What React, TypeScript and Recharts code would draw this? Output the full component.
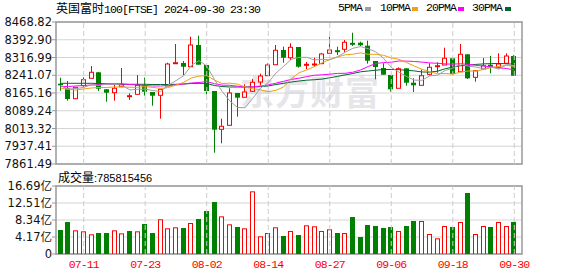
import React from "react";
import {
  ComposedChart,
  Bar,
  Line,
  XAxis,
  YAxis,
  CartesianGrid,
  ReferenceLine,
  ReferenceArea,
} from "recharts";

// ---------- data ----------
const dates = [
  "07-08", "07-09", "07-10", "07-11", "07-12", "07-15", "07-16", "07-17", "07-18", "07-19",
  "07-22", "07-23", "07-24", "07-25", "07-26", "07-29", "07-30", "07-31", "08-01", "08-02",
  "08-05", "08-06", "08-07", "08-08", "08-09", "08-12", "08-13", "08-14", "08-15", "08-16",
  "08-19", "08-20", "08-21", "08-22", "08-23", "08-27", "08-28", "08-29", "08-30", "09-02",
  "09-03", "09-04", "09-05", "09-06", "09-09", "09-10", "09-11", "09-12", "09-13", "09-16",
  "09-17", "09-18", "09-19", "09-20", "09-23", "09-24", "09-25", "09-26", "09-27", "09-30",
];

const opens = [
  8204.9, 8185.3, 8140.8, 8196.4, 8228.0, 8253.7, 8181.0, 8166.4, 8192.1, 8153.6,
  8159.6, 8198.1, 8169.4, 8155.3, 8195.1, 8290.5, 8293.5, 8277.6, 8370.4, 8284.9,
  8173.7, 8009.9, 8027.0, 8165.2, 8146.8, 8172.4, 8212.2, 8239.1, 8286.2, 8349.1,
  8316.1, 8361.9, 8281.9, 8286.2, 8290.5, 8335.0, 8346.1, 8352.1, 8377.7, 8380.3,
  8367.5, 8302.0, 8272.1, 8242.1, 8185.3, 8270.8, 8209.2, 8198.1, 8245.1, 8279.3,
  8284.9, 8313.6, 8256.3, 8330.7, 8232.3, 8267.8, 8286.2, 8275.1, 8292.2, 8323.4,
];
const highs = [
  8230.6, 8216.5, 8190.8, 8232.3, 8280.6, 8255.0, 8182.3, 8199.4, 8272.1, 8163.9,
  8242.1, 8230.6, 8169.4, 8182.3, 8294.7, 8374.7, 8302.0, 8405.9, 8410.2, 8284.9,
  8173.7, 8055.2, 8185.3, 8165.2, 8202.4, 8225.0, 8247.7, 8292.2, 8370.4, 8363.2,
  8377.7, 8361.9, 8297.7, 8316.1, 8335.0, 8405.9, 8363.2, 8391.8, 8423.1, 8384.6,
  8388.8, 8302.0, 8292.2, 8242.1, 8275.1, 8270.8, 8228.0, 8264.8, 8292.2, 8296.5,
  8358.9, 8313.6, 8374.7, 8330.7, 8260.5, 8314.8, 8323.4, 8335.0, 8335.0, 8327.7,
];
const lows = [
  8175.0, 8132.2, 8139.5, 8192.1, 8228.0, 8173.7, 8127.9, 8132.2, 8192.1, 8135.2,
  8159.6, 8153.6, 8110.8, 8055.2, 8195.1, 8290.5, 8242.1, 8277.6, 8286.2, 8159.6,
  7909.8, 7950.0, 8027.0, 8063.8, 8146.8, 8169.4, 8198.1, 8239.1, 8286.2, 8294.7,
  8306.3, 8273.4, 8267.8, 8277.6, 8290.5, 8335.0, 8327.7, 8339.2, 8366.2, 8366.2,
  8290.5, 8223.7, 8243.4, 8170.7, 8185.3, 8196.4, 8169.4, 8198.1, 8239.1, 8252.0,
  8284.9, 8242.1, 8256.3, 8225.0, 8213.5, 8267.8, 8249.4, 8270.8, 8292.2, 8237.9,
];
const closes = [
  8198.1, 8139.5, 8189.5, 8222.0, 8253.7, 8183.5, 8166.4, 8185.3, 8202.4, 8153.6,
  8198.1, 8170.7, 8153.6, 8181.0, 8289.2, 8294.7, 8277.6, 8370.4, 8286.2, 8173.7,
  8008.2, 8022.7, 8165.2, 8145.1, 8169.4, 8210.9, 8237.9, 8284.9, 8347.8, 8316.1,
  8360.6, 8277.6, 8287.9, 8289.2, 8332.0, 8349.1, 8343.5, 8382.0, 8374.7, 8369.2,
  8303.3, 8276.4, 8243.4, 8181.0, 8269.1, 8209.2, 8198.1, 8239.1, 8275.1, 8281.9,
  8313.6, 8246.4, 8330.7, 8228.0, 8260.5, 8281.9, 8277.6, 8289.2, 8323.4, 8239.1,
];
// volume in 亿
const volumes = [
  5.89, 7.85, 5.81, 5.56, 4.83, 5.15, 5.15, 5.81, 5.07, 5.65,
  5.56, 7.36, 5.15, 8.51, 6.30, 6.55, 6.38, 7.61, 8.59, 10.55,
  12.76, 9.24, 7.28, 6.63, 6.30, 15.38, 4.34, 5.15, 6.55, 4.42,
  5.65, 4.66, 7.04, 6.80, 5.65, 6.06, 5.15, 5.15, 9.08, 4.17,
  7.12, 6.87, 6.38, 6.63, 5.65, 6.87, 8.10, 8.10, 4.91, 3.85,
  6.87, 6.63, 7.85, 14.97, 4.91, 6.87, 6.63, 7.85, 6.87, 7.86,
];
const ma5 = [
  8195.1, 8182.3, 8184.4, 8188.7, 8200.6, 8197.7, 8203.2, 8202.4, 8198.1, 8178.4,
  8181.0, 8181.8, 8175.8, 8171.6, 8198.5, 8217.8, 8239.1, 8282.8, 8303.7, 8280.6,
  8223.3, 8172.4, 8131.4, 8103.1, 8102.3, 8142.5, 8185.7, 8209.6, 8250.3, 8279.3,
  8309.3, 8317.4, 8317.8, 8306.3, 8309.3, 8307.2, 8320.4, 8339.2, 8356.3, 8363.6,
  8354.6, 8340.9, 8313.6, 8274.6, 8254.5, 8235.7, 8220.3, 8219.5, 8238.3, 8240.9,
  8261.4, 8271.2, 8289.6, 8280.2, 8275.9, 8269.5, 8275.9, 8267.4, 8286.6, 8282.3,
];
const ma10 = [
  8186.5, 8180.1, 8178.0, 8182.3, 8186.5, 8188.7, 8188.7, 8190.8, 8190.8, 8189.5,
  8189.5, 8192.5, 8189.1, 8184.8, 8188.2, 8199.4, 8210.5, 8229.3, 8237.4, 8239.6,
  8220.3, 8205.8, 8207.1, 8203.2, 8191.2, 8183.1, 8178.8, 8170.3, 8176.7, 8190.8,
  8225.9, 8251.5, 8264.0, 8278.1, 8294.3, 8308.4, 8318.7, 8328.5, 8331.1, 8336.7,
  8330.7, 8330.7, 8326.4, 8315.3, 8309.3, 8295.2, 8280.6, 8266.5, 8256.3, 8247.7,
  8248.6, 8245.6, 8254.5, 8259.2, 8258.4, 8265.7, 8273.4, 8278.5, 8283.2, 8278.9,
];
const ma20 = [
  8193.0, 8193.0, 8195.1, 8197.2, 8199.4, 8201.5, 8203.6, 8203.6, 8203.6, 8201.5,
  8199.4, 8197.2, 8195.1, 8195.1, 8197.2, 8199.4, 8203.6, 8207.9, 8210.1, 8214.3,
  8204.9, 8198.9, 8198.1, 8194.2, 8190.0, 8191.2, 8194.7, 8199.8, 8207.1, 8215.2,
  8223.3, 8228.5, 8235.3, 8240.9, 8243.0, 8245.6, 8249.0, 8249.4, 8254.1, 8263.5,
  8278.5, 8291.3, 8295.2, 8296.9, 8302.0, 8301.6, 8299.9, 8297.3, 8293.9, 8292.2,
  8289.6, 8288.3, 8290.5, 8287.5, 8283.6, 8280.2, 8277.2, 8272.5, 8269.9, 8263.5,
];
const ma30 = [
  8206.6, 8206.6, 8206.6, 8206.6, 8206.6, 8205.8, 8204.5, 8203.6, 8202.8, 8202.4,
  8202.4, 8202.4, 8201.5, 8201.5, 8201.5, 8202.4, 8203.6, 8205.8, 8206.6, 8205.8,
  8197.2, 8193.0, 8190.8, 8190.8, 8190.8, 8190.8, 8193.0, 8195.1, 8201.5, 8206.6,
  8212.2, 8216.5, 8219.9, 8222.0, 8224.6, 8230.2, 8236.2, 8242.6, 8248.6, 8255.8,
  8259.2, 8262.7, 8265.7, 8265.7, 8264.8, 8262.2, 8259.7, 8255.0, 8254.5, 8258.4,
  8268.7, 8275.9, 8281.5, 8284.1, 8287.5, 8289.6, 8290.9, 8291.3, 8290.5, 8287.9,
];

const priceTicks = [7861.49, 7937.41, 8013.32, 8089.24, 8165.16, 8241.07, 8316.99, 8392.9, 8468.82];
const volTicks = [0, 4.17, 8.34, 12.51, 16.69];
const dateTickIdx = [4, 12, 20, 28, 36, 44, 52, 60];
const lastVolume = "785815456";

// ---------- styles ----------
const RED = "#ff0000";
const GREEN = "#008000";
const GRID = "#d4d4d4";
const BORDER = "#999999";
const MA_COLORS = { ma5: "#a0a0a0", ma10: "#f0a010", ma20: "#ff00ff", ma30: "#00662e" };
const X_DOMAIN: [number, number] = [0.4, 61];
const AXIS_FONT = "DejaVu Sans, Noto Sans CJK SC, sans-serif";
const MONO = "Liberation Mono, DejaVu Sans Mono, monospace";

const rows = dates.map((d, i) => ({
  idx: i + 1,
  date: d,
  open: opens[i],
  high: highs[i],
  low: lows[i],
  close: closes[i],
  range: [lows[i], highs[i]],
  vol: volumes[i],
  ma5: ma5[i],
  ma10: ma10[i],
  ma20: ma20[i],
  ma30: ma30[i],
}));

const CandleShape = (props: any) => {
  const { x, y, width, height, payload } = props;
  if (x == null || y == null) return null;
  const top = Math.min(y, y + height);
  const bot = Math.max(y, y + height);
  const { open, close, high, low } = payload;
  const span = high - low || 1;
  const toY = (p: number) => top + ((high - p) / span) * (bot - top);
  const c = Math.round(x + width / 2 - 0.5);
  const up = close >= open;
  const color = up ? RED : GREEN;
  const yO = toY(open);
  const yC = toY(close);
  const bTop = Math.min(yO, yC);
  const bBot = Math.max(yO, yC);
  const wx = c + 0.5;
  if (bBot - bTop < 1.5) {
    return (
      <g>
        <line x1={wx} x2={wx} y1={top} y2={bot} stroke={color} strokeWidth={1} />
        <rect x={c - 2} y={bTop - 0.5} width={5} height={2} fill={color} />
      </g>
    );
  }
  if (up) {
    return (
      <g>
        {bTop > top && <line x1={wx} x2={wx} y1={top} y2={bTop} stroke={color} strokeWidth={1} />}
        {bBot < bot && <line x1={wx} x2={wx} y1={bBot} y2={bot} stroke={color} strokeWidth={1} />}
        <rect x={c - 1.5} y={bTop} width={4} height={bBot - bTop} fill="#ffffff" stroke={color} strokeWidth={1} />
      </g>
    );
  }
  return (
    <g>
      <line x1={wx} x2={wx} y1={top} y2={bot} stroke={color} strokeWidth={1} />
      <rect x={c - 2} y={bTop} width={5} height={bBot - bTop} fill={color} />
    </g>
  );
};

const VolShape = (props: any) => {
  const { x, y, width, height, payload } = props;
  if (x == null || y == null) return null;
  const top = Math.min(y, y + height);
  const bot = Math.max(y, y + height);
  const c = Math.round(x + width / 2 - 0.5);
  const up = payload.close > payload.open;
  if (up) {
    return (
      <rect x={c - 1.5} y={top + 0.5} width={4} height={bot - top - 0.5} fill="#ffffff" stroke={RED} strokeWidth={1} />
    );
  }
  return <rect x={c - 2} y={top} width={5} height={bot - top} fill={GREEN} />;
};

const legendItems = [
  { label: "5PMA", color: MA_COLORS.ma5, x: 338, sq: 365 },
  { label: "10PMA", color: MA_COLORS.ma10, x: 380, sq: 412 },
  { label: "20PMA", color: MA_COLORS.ma20, x: 426, sq: 458 },
  { label: "30PMA", color: MA_COLORS.ma30, x: 472, sq: 505 },
];

export default function App() {
  return (
    <div
      style={{
        position: "absolute",
        left: 0,
        top: 0,
        width: 578,
        height: 276,
        background: "#ffffff",
        overflow: "hidden",
      }}
    >
      {/* watermark */}
      <div
        style={{
          position: "absolute",
          left: 240,
          top: 72,
          fontFamily: "Noto Sans CJK SC",
          fontWeight: 700,
          fontSize: 34,
          lineHeight: "38px",
          color: "#e6e6ea",
          letterSpacing: 1,
          whiteSpace: "nowrap",
        }}
      >
        东方财富
      </div>

      {/* title */}
      <div
        style={{
          position: "absolute",
          left: 56,
          top: 1,
          fontSize: 12,
          lineHeight: "14px",
          whiteSpace: "nowrap",
          color: "#000",
        }}
      >
        <span style={{ fontFamily: "Noto Sans CJK SC" }}>英国富时</span>
        <span style={{ fontFamily: MONO, fontSize: 11.5, letterSpacing: -0.9 }}>100[FTSE] 2024-09-30 23:30</span>
      </div>

      {/* legend */}
      {legendItems.map((it) => (
        <React.Fragment key={it.label}>
          <div
            style={{
              position: "absolute",
              left: it.x,
              top: 1,
              fontFamily: MONO,
              fontSize: 11.5,
              letterSpacing: -0.9,
              lineHeight: "14px",
              color: "#000",
              whiteSpace: "nowrap",
            }}
          >
            {it.label}
          </div>
          <div
            style={{
              position: "absolute",
              left: it.sq,
              top: 7,
              width: 6,
              height: 4,
              background: it.color,
            }}
          />
        </React.Fragment>
      ))}

      {/* price chart */}
      <div style={{ position: "absolute", left: 0, top: 0 }}>
        <ComposedChart
          width={578}
          height={176}
          data={rows}
          margin={{ top: 22, right: 56, bottom: 12, left: 0 }}
        >
          <CartesianGrid horizontal vertical={false} stroke={GRID} />
          <XAxis type="number" dataKey="idx" domain={X_DOMAIN} ticks={dateTickIdx} hide allowDataOverflow />
          <YAxis
            type="number"
            domain={[priceTicks[0], priceTicks[priceTicks.length - 1]]}
            ticks={priceTicks}
            interval={0}
            width={56}
            axisLine={false}
            tickLine={{ stroke: BORDER }}
            tickSize={4}
            tickMargin={0}
            tick={{ fill: "#111", fontSize: 11.5, fontFamily: AXIS_FONT }}
            tickFormatter={(v: number) => v.toFixed(2)}
            allowDataOverflow
          />
          {dateTickIdx.map((t) => (
            <ReferenceLine key={t} x={t} stroke="#cccccc" strokeDasharray="5 3" />
          ))}
          <Bar dataKey="range" barSize={5} shape={CandleShape} isAnimationActive={false} />
          <Line type="linear" dataKey="ma30" stroke={MA_COLORS.ma30} strokeWidth={1} dot={false} isAnimationActive={false} />
          <Line type="linear" dataKey="ma20" stroke={MA_COLORS.ma20} strokeWidth={1} dot={false} isAnimationActive={false} />
          <Line type="linear" dataKey="ma10" stroke={MA_COLORS.ma10} strokeWidth={1} dot={false} isAnimationActive={false} />
          <Line type="linear" dataKey="ma5" stroke={MA_COLORS.ma5} strokeWidth={1} dot={false} isAnimationActive={false} />
          <ReferenceArea
            x1={X_DOMAIN[0]}
            x2={X_DOMAIN[1]}
            y1={priceTicks[0]}
            y2={priceTicks[priceTicks.length - 1]}
            fill="none"
            fillOpacity={0}
            stroke={BORDER}
            strokeWidth={1.5}
          />
        </ComposedChart>
      </div>

      {/* volume title */}
      <div
        style={{
          position: "absolute",
          left: 58,
          top: 170,
          fontSize: 12,
          lineHeight: "14px",
          whiteSpace: "nowrap",
          color: "#000",
        }}
      >
        <span style={{ fontFamily: "Noto Sans CJK SC" }}>成交量</span>
        <span style={{ fontFamily: "Liberation Sans, Arial, sans-serif", fontSize: 11 }}>:{lastVolume}</span>
      </div>

      {/* volume chart */}
      <div style={{ position: "absolute", left: 0, top: 176 }}>
        <ComposedChart
          width={578}
          height={100}
          data={rows}
          margin={{ top: 10, right: 56, bottom: 0, left: 0 }}
        >
          <CartesianGrid horizontal vertical={false} stroke={GRID} />
          <XAxis
            type="number"
            dataKey="idx"
            domain={X_DOMAIN}
            ticks={dateTickIdx}
            interval={0}
            height={22}
            axisLine={false}
            tickLine={false}
            tickSize={0}
            tickMargin={6}
            tick={{ fill: RED, fontSize: 11.5, fontFamily: MONO, letterSpacing: -0.9 }}
            tickFormatter={(v: number) => dates[v - 1] ?? ""}
            allowDataOverflow
          />
          <YAxis
            type="number"
            domain={[0, volTicks[volTicks.length - 1]]}
            ticks={volTicks}
            interval={0}
            width={56}
            axisLine={false}
            tickLine={{ stroke: BORDER }}
            tickSize={4}
            tickMargin={0}
            tick={{ fill: "#111", fontSize: 11.5, fontFamily: AXIS_FONT }}
            tickFormatter={(v: number) => (v === 0 ? "0" : v.toFixed(2) + "亿")}
            allowDataOverflow
          />
          {dateTickIdx.map((t) => (
            <ReferenceLine key={t} x={t} stroke="#cccccc" strokeDasharray="5 3" />
          ))}
          <Bar dataKey="vol" barSize={5} shape={VolShape} isAnimationActive={false} />
          <ReferenceArea
            x1={X_DOMAIN[0]}
            x2={X_DOMAIN[1]}
            y1={0}
            y2={volTicks[volTicks.length - 1]}
            fill="none"
            fillOpacity={0}
            stroke={BORDER}
            strokeWidth={1.5}
          />
        </ComposedChart>
      </div>
    </div>
  );
}
